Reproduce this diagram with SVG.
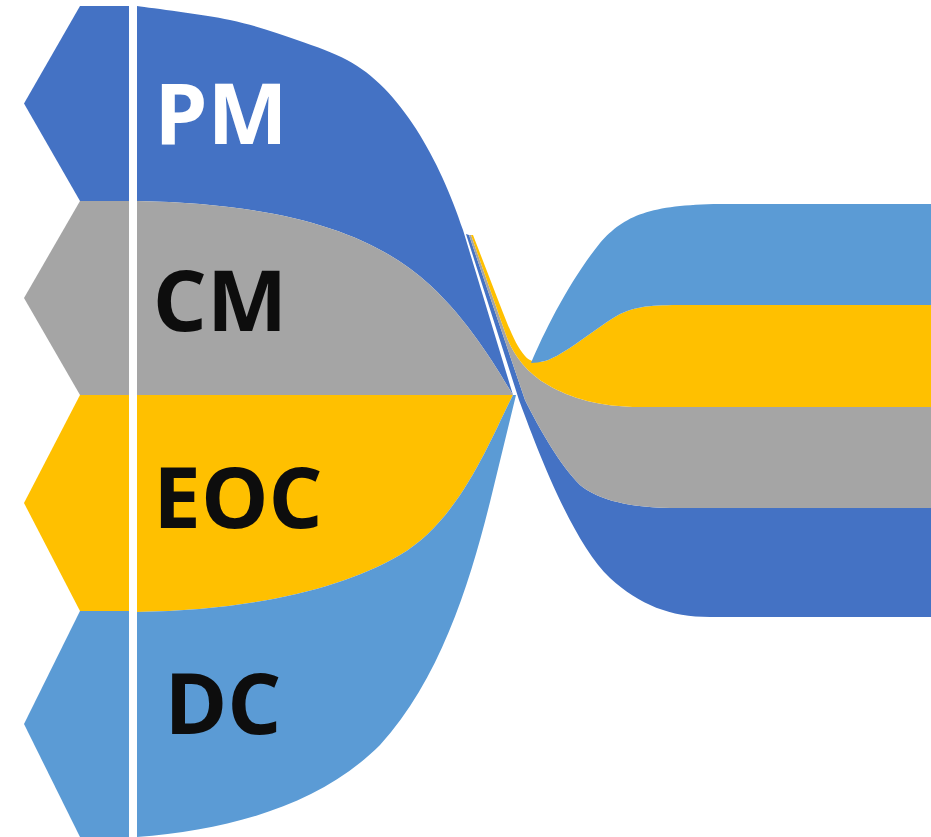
<svg xmlns="http://www.w3.org/2000/svg" width="931" height="837" viewBox="0 0 931 837">
<style>
.pm{fill:#4472C4}
.cm{fill:#A5A5A5}
.eoc{fill:#FFC000}
.dc{fill:#5B9BD5}
.lbl{font-family:"Open Sans","Liberation Sans",sans-serif;font-weight:700;font-size:85px;text-anchor:middle}
.w{fill:#FFFFFF}
.k{fill:#0D0D0D}
</style>
<rect width="931" height="837" fill="#FFFFFF"/>
<g id="connectors">
  <path id="band-pm-right" class="pm" d="M466,234 L519,400 C534,440 570,540 610,578 C640,605 670,617 710,617 L931,617 L931,508 L670,508 C620,507 595,497 580,485 C560,465 540,430 525,400 L469,235 Z"/>
  <path id="band-cm-right" class="cm" d="M469,235 L525,400 C540,430 560,465 580,485 C595,497 620,507 670,508 L931,508 L931,407 L640,407 C600,407 570,398 548,385 C525,372 512,352 506,335 L471,235 Z"/>
  <path id="band-eoc-right" class="eoc" d="M471,235 L506,335 C512,352 525,372 548,385 C570,398 600,407 640,407 L931,407 L931,305 L690,305 C655,305 640,305 620,314 C595,328 565,355 545,361 C538,363 530,362 525,356 C515,345 508,325 500,305 L473,235 Z"/>
  <path id="band-dc-right" class="dc" d="M531,363 C545,330 570,280 600,243 C625,215 650,205 720,204 L931,204 L931,305 L690,305 C655,305 640,305 620,314 C595,328 565,355 545,361 C540,362 535,363 531,363 Z"/>
  <path id="band-pm-left" class="pm" d="M137,6 C152.5,8.3 203.3,14.3 230,20 C256.7,25.7 277.5,33.3 297,40 C316.5,46.7 333.2,52.8 347,60 C400,87.6 440,160 463,230 L513,395 C498,370 470,322 430,285 C370,230 280,204 137,201 Z"/>
  <path id="band-cm-left" class="cm" d="M137,201 C280,204 370,230 430,285 C470,322 498,370 513,395 L137,395 Z"/>
  <path id="band-eoc-left" class="eoc" d="M137,395 L513,395 C490,440 460,520 400,555 C340,590 250,610 137,612 Z"/>
  <path id="band-dc-left" class="dc" d="M137,612 C250,610 340,590 400,555 C460,520 490,440 513,395 L516,395 L490,502 C470,582 440,680 380,745 C320,805 230,830 137,837 Z"/>
</g>
<g id="nodes">
  <g id="node-pm">
    <polygon class="pm" points="80,6 129,6 129,201 80,201 24,103.5"/>
    <text class="lbl w" x="221" y="144">PM</text>
  </g>
  <g id="node-cm">
    <polygon class="cm" points="80,201 129,201 129,395 80,395 24,298"/>
    <text class="lbl k" x="220" y="331">CM</text>
  </g>
  <g id="node-eoc">
    <polygon class="eoc" points="80,395 129,395 129,611 80,611 24,503"/>
    <text class="lbl k" x="238" y="528">EOC</text>
  </g>
  <g id="node-dc">
    <polygon class="dc" points="80,611 129,611 129,837 80,837 24,724"/>
    <text class="lbl k" x="223" y="734">DC</text>
  </g>
</g>
</svg>
